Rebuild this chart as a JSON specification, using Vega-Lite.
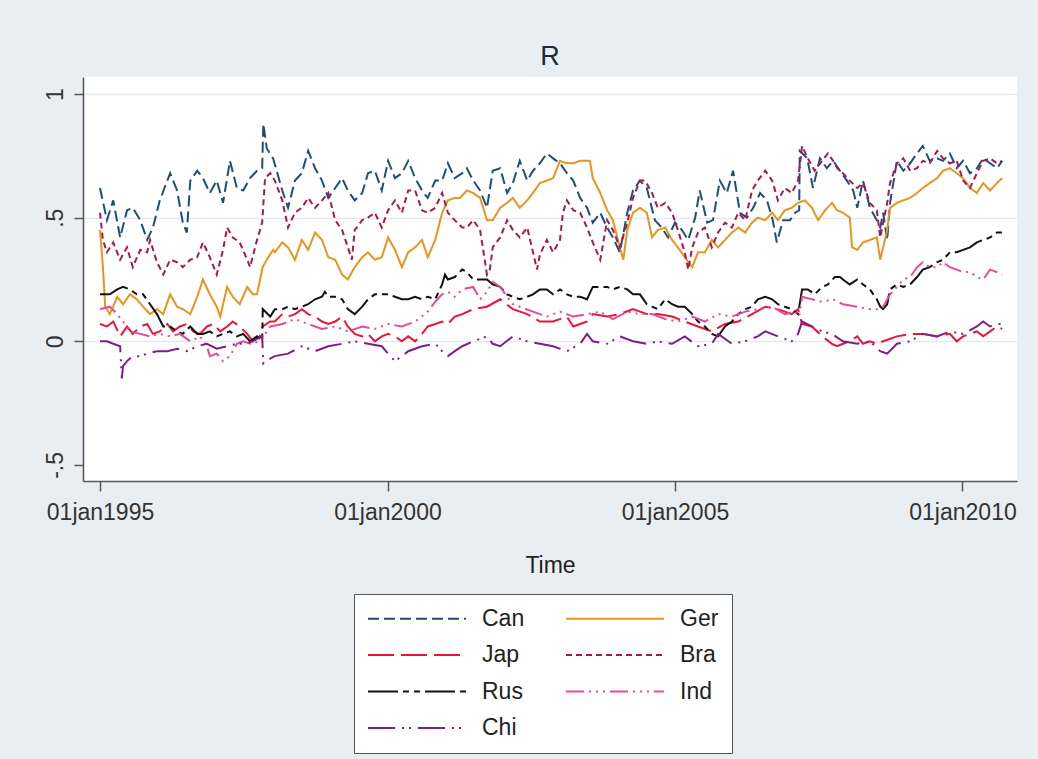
{
  "$schema": "https://vega.github.io/schema/vega-lite/v6.json",
  "autosize": "none",
  "width": 934,
  "height": 404,
  "padding": {"left": 83, "top": 77, "right": 21, "bottom": 278},
  "background": "#e9eef2",
  "title": {"text": "R", "fontSize": 27, "fontWeight": "normal", "color": "#1c2b3a", "offset": 6, "anchor": "middle", "font": "Liberation Sans"},
  "config": {
    "font": "Liberation Sans",
    "view": {"fill": "white", "stroke": null}
  },
  "data": {"values": [
    {"s":"Can","t":1995.00,"v":0.62},{"s":"Can","t":1995.12,"v":0.49},{"s":"Can","t":1995.23,"v":0.57},{"s":"Can","t":1995.35,"v":0.42},{"s":"Can","t":1995.47,"v":0.53},{"s":"Can","t":1995.57,"v":0.54},{"s":"Can","t":1995.70,"v":0.49},{"s":"Can","t":1995.82,"v":0.41},{"s":"Can","t":1995.92,"v":0.46},{"s":"Can","t":1996.04,"v":0.57},{"s":"Can","t":1996.17,"v":0.65},{"s":"Can","t":1996.22,"v":0.68},{"s":"Can","t":1996.34,"v":0.61},{"s":"Can","t":1996.44,"v":0.48},{"s":"Can","t":1996.51,"v":0.44},{"s":"Can","t":1996.57,"v":0.65},{"s":"Can","t":1996.69,"v":0.69},{"s":"Can","t":1996.79,"v":0.66},{"s":"Can","t":1996.91,"v":0.60},{"s":"Can","t":1997.03,"v":0.65},{"s":"Can","t":1997.14,"v":0.56},{"s":"Can","t":1997.26,"v":0.73},{"s":"Can","t":1997.38,"v":0.62},{"s":"Can","t":1997.49,"v":0.61},{"s":"Can","t":1997.61,"v":0.66},{"s":"Can","t":1997.73,"v":0.69},{"s":"Can","t":1997.82,"v":0.70},{"s":"Can","t":1997.84,"v":0.88},{"s":"Can","t":1997.90,"v":0.78},{"s":"Can","t":1998.01,"v":0.74},{"s":"Can","t":1998.17,"v":0.61},{"s":"Can","t":1998.27,"v":0.54},{"s":"Can","t":1998.39,"v":0.65},{"s":"Can","t":1998.51,"v":0.68},{"s":"Can","t":1998.62,"v":0.77},{"s":"Can","t":1998.74,"v":0.70},{"s":"Can","t":1998.86,"v":0.65},{"s":"Can","t":1998.97,"v":0.58},{"s":"Can","t":1999.09,"v":0.62},{"s":"Can","t":1999.21,"v":0.66},{"s":"Can","t":1999.31,"v":0.61},{"s":"Can","t":1999.43,"v":0.57},{"s":"Can","t":1999.56,"v":0.60},{"s":"Can","t":1999.66,"v":0.68},{"s":"Can","t":1999.78,"v":0.69},{"s":"Can","t":1999.90,"v":0.61},{"s":"Can","t":2000.01,"v":0.73},{"s":"Can","t":2000.13,"v":0.66},{"s":"Can","t":2000.25,"v":0.68},{"s":"Can","t":2000.36,"v":0.73},{"s":"Can","t":2000.48,"v":0.66},{"s":"Can","t":2000.60,"v":0.61},{"s":"Can","t":2000.70,"v":0.58},{"s":"Can","t":2000.83,"v":0.65},{"s":"Can","t":2000.95,"v":0.65},{"s":"Can","t":2001.05,"v":0.72},{"s":"Can","t":2001.17,"v":0.66},{"s":"Can","t":2001.30,"v":0.68},{"s":"Can","t":2001.38,"v":0.70},{"s":"Can","t":2001.49,"v":0.65},{"s":"Can","t":2001.61,"v":0.61},{"s":"Can","t":2001.73,"v":0.54},{"s":"Can","t":2001.83,"v":0.69},{"s":"Can","t":2001.96,"v":0.70},{"s":"Can","t":2002.08,"v":0.60},{"s":"Can","t":2002.18,"v":0.64},{"s":"Can","t":2002.30,"v":0.73},{"s":"Can","t":2002.43,"v":0.65},{"s":"Can","t":2002.53,"v":0.69},{"s":"Can","t":2002.65,"v":0.72},{"s":"Can","t":2002.77,"v":0.76},{"s":"Can","t":2002.88,"v":0.74},{"s":"Can","t":2003.00,"v":0.72},{"s":"Can","t":2003.12,"v":0.68},{"s":"Can","t":2003.23,"v":0.65},{"s":"Can","t":2003.35,"v":0.58},{"s":"Can","t":2003.47,"v":0.54},{"s":"Can","t":2003.57,"v":0.48},{"s":"Can","t":2003.70,"v":0.52},{"s":"Can","t":2003.82,"v":0.46},{"s":"Can","t":2003.92,"v":0.42},{"s":"Can","t":2004.04,"v":0.36},{"s":"Can","t":2004.17,"v":0.52},{"s":"Can","t":2004.27,"v":0.61},{"s":"Can","t":2004.39,"v":0.65},{"s":"Can","t":2004.51,"v":0.62},{"s":"Can","t":2004.65,"v":0.49},{"s":"Can","t":2004.77,"v":0.46},{"s":"Can","t":2004.88,"v":0.42},{"s":"Can","t":2005.00,"v":0.48},{"s":"Can","t":2005.12,"v":0.45},{"s":"Can","t":2005.23,"v":0.41},{"s":"Can","t":2005.35,"v":0.50},{"s":"Can","t":2005.43,"v":0.61},{"s":"Can","t":2005.56,"v":0.48},{"s":"Can","t":2005.66,"v":0.49},{"s":"Can","t":2005.78,"v":0.65},{"s":"Can","t":2005.90,"v":0.60},{"s":"Can","t":2006.01,"v":0.69},{"s":"Can","t":2006.13,"v":0.52},{"s":"Can","t":2006.25,"v":0.50},{"s":"Can","t":2006.36,"v":0.54},{"s":"Can","t":2006.48,"v":0.60},{"s":"Can","t":2006.60,"v":0.57},{"s":"Can","t":2006.70,"v":0.49},{"s":"Can","t":2006.77,"v":0.40},{"s":"Can","t":2006.88,"v":0.49},{"s":"Can","t":2007.00,"v":0.49},{"s":"Can","t":2007.09,"v":0.52},{"s":"Can","t":2007.16,"v":0.53},{"s":"Can","t":2007.17,"v":0.77},{"s":"Can","t":2007.30,"v":0.74},{"s":"Can","t":2007.40,"v":0.62},{"s":"Can","t":2007.52,"v":0.74},{"s":"Can","t":2007.64,"v":0.70},{"s":"Can","t":2007.75,"v":0.73},{"s":"Can","t":2007.87,"v":0.69},{"s":"Can","t":2007.99,"v":0.65},{"s":"Can","t":2008.10,"v":0.61},{"s":"Can","t":2008.17,"v":0.54},{"s":"Can","t":2008.27,"v":0.65},{"s":"Can","t":2008.39,"v":0.54},{"s":"Can","t":2008.51,"v":0.49},{"s":"Can","t":2008.57,"v":0.46},{"s":"Can","t":2008.62,"v":0.52},{"s":"Can","t":2008.69,"v":0.41},{"s":"Can","t":2008.74,"v":0.56},{"s":"Can","t":2008.86,"v":0.73},{"s":"Can","t":2008.97,"v":0.69},{"s":"Can","t":2009.09,"v":0.72},{"s":"Can","t":2009.21,"v":0.76},{"s":"Can","t":2009.31,"v":0.79},{"s":"Can","t":2009.43,"v":0.73},{"s":"Can","t":2009.56,"v":0.74},{"s":"Can","t":2009.66,"v":0.73},{"s":"Can","t":2009.78,"v":0.76},{"s":"Can","t":2009.90,"v":0.70},{"s":"Can","t":2010.01,"v":0.73},{"s":"Can","t":2010.13,"v":0.68},{"s":"Can","t":2010.25,"v":0.70},{"s":"Can","t":2010.36,"v":0.74},{"s":"Can","t":2010.48,"v":0.72},{"s":"Can","t":2010.60,"v":0.70},{"s":"Can","t":2010.69,"v":0.73},

    {"s":"Ger","t":1995.00,"v":0.45},{"s":"Ger","t":1995.05,"v":0.30},{"s":"Ger","t":1995.09,"v":0.14},{"s":"Ger","t":1995.17,"v":0.11},{"s":"Ger","t":1995.30,"v":0.18},{"s":"Ger","t":1995.40,"v":0.15},{"s":"Ger","t":1995.52,"v":0.19},{"s":"Ger","t":1995.64,"v":0.17},{"s":"Ger","t":1995.75,"v":0.14},{"s":"Ger","t":1995.87,"v":0.11},{"s":"Ger","t":1995.99,"v":0.13},{"s":"Ger","t":1996.10,"v":0.11},{"s":"Ger","t":1996.22,"v":0.19},{"s":"Ger","t":1996.34,"v":0.14},{"s":"Ger","t":1996.44,"v":0.13},{"s":"Ger","t":1996.57,"v":0.11},{"s":"Ger","t":1996.69,"v":0.18},{"s":"Ger","t":1996.79,"v":0.25},{"s":"Ger","t":1996.91,"v":0.19},{"s":"Ger","t":1997.03,"v":0.14},{"s":"Ger","t":1997.09,"v":0.10},{"s":"Ger","t":1997.21,"v":0.22},{"s":"Ger","t":1997.31,"v":0.18},{"s":"Ger","t":1997.43,"v":0.15},{"s":"Ger","t":1997.56,"v":0.22},{"s":"Ger","t":1997.66,"v":0.19},{"s":"Ger","t":1997.73,"v":0.19},{"s":"Ger","t":1997.83,"v":0.30},{"s":"Ger","t":1997.90,"v":0.33},{"s":"Ger","t":1998.01,"v":0.37},{"s":"Ger","t":1998.04,"v":0.36},{"s":"Ger","t":1998.17,"v":0.40},{"s":"Ger","t":1998.27,"v":0.38},{"s":"Ger","t":1998.39,"v":0.33},{"s":"Ger","t":1998.51,"v":0.41},{"s":"Ger","t":1998.62,"v":0.37},{"s":"Ger","t":1998.74,"v":0.44},{"s":"Ger","t":1998.86,"v":0.41},{"s":"Ger","t":1998.97,"v":0.34},{"s":"Ger","t":1999.09,"v":0.33},{"s":"Ger","t":1999.21,"v":0.27},{"s":"Ger","t":1999.31,"v":0.25},{"s":"Ger","t":1999.43,"v":0.30},{"s":"Ger","t":1999.56,"v":0.34},{"s":"Ger","t":1999.66,"v":0.36},{"s":"Ger","t":1999.78,"v":0.33},{"s":"Ger","t":1999.90,"v":0.34},{"s":"Ger","t":2000.01,"v":0.42},{"s":"Ger","t":2000.13,"v":0.37},{"s":"Ger","t":2000.25,"v":0.30},{"s":"Ger","t":2000.36,"v":0.36},{"s":"Ger","t":2000.48,"v":0.38},{"s":"Ger","t":2000.60,"v":0.41},{"s":"Ger","t":2000.70,"v":0.34},{"s":"Ger","t":2000.83,"v":0.41},{"s":"Ger","t":2000.95,"v":0.52},{"s":"Ger","t":2001.05,"v":0.57},{"s":"Ger","t":2001.17,"v":0.58},{"s":"Ger","t":2001.26,"v":0.58},{"s":"Ger","t":2001.38,"v":0.61},{"s":"Ger","t":2001.49,"v":0.60},{"s":"Ger","t":2001.61,"v":0.58},{"s":"Ger","t":2001.73,"v":0.49},{"s":"Ger","t":2001.83,"v":0.49},{"s":"Ger","t":2001.96,"v":0.54},{"s":"Ger","t":2002.08,"v":0.56},{"s":"Ger","t":2002.18,"v":0.58},{"s":"Ger","t":2002.30,"v":0.54},{"s":"Ger","t":2002.43,"v":0.57},{"s":"Ger","t":2002.53,"v":0.60},{"s":"Ger","t":2002.65,"v":0.64},{"s":"Ger","t":2002.77,"v":0.65},{"s":"Ger","t":2002.88,"v":0.66},{"s":"Ger","t":2003.00,"v":0.73},{"s":"Ger","t":2003.12,"v":0.72},{"s":"Ger","t":2003.23,"v":0.72},{"s":"Ger","t":2003.35,"v":0.73},{"s":"Ger","t":2003.52,"v":0.73},{"s":"Ger","t":2003.57,"v":0.66},{"s":"Ger","t":2003.70,"v":0.60},{"s":"Ger","t":2003.82,"v":0.53},{"s":"Ger","t":2003.92,"v":0.49},{"s":"Ger","t":2004.04,"v":0.38},{"s":"Ger","t":2004.10,"v":0.33},{"s":"Ger","t":2004.17,"v":0.45},{"s":"Ger","t":2004.27,"v":0.52},{"s":"Ger","t":2004.39,"v":0.54},{"s":"Ger","t":2004.51,"v":0.52},{"s":"Ger","t":2004.60,"v":0.42},{"s":"Ger","t":2004.70,"v":0.45},{"s":"Ger","t":2004.83,"v":0.46},{"s":"Ger","t":2004.95,"v":0.41},{"s":"Ger","t":2005.05,"v":0.38},{"s":"Ger","t":2005.17,"v":0.34},{"s":"Ger","t":2005.30,"v":0.30},{"s":"Ger","t":2005.40,"v":0.36},{"s":"Ger","t":2005.52,"v":0.36},{"s":"Ger","t":2005.64,"v":0.41},{"s":"Ger","t":2005.75,"v":0.38},{"s":"Ger","t":2005.87,"v":0.41},{"s":"Ger","t":2005.99,"v":0.44},{"s":"Ger","t":2006.10,"v":0.46},{"s":"Ger","t":2006.22,"v":0.44},{"s":"Ger","t":2006.34,"v":0.48},{"s":"Ger","t":2006.44,"v":0.50},{"s":"Ger","t":2006.57,"v":0.49},{"s":"Ger","t":2006.69,"v":0.52},{"s":"Ger","t":2006.79,"v":0.49},{"s":"Ger","t":2006.91,"v":0.53},{"s":"Ger","t":2007.03,"v":0.54},{"s":"Ger","t":2007.14,"v":0.56},{"s":"Ger","t":2007.26,"v":0.57},{"s":"Ger","t":2007.38,"v":0.54},{"s":"Ger","t":2007.49,"v":0.49},{"s":"Ger","t":2007.61,"v":0.53},{"s":"Ger","t":2007.73,"v":0.56},{"s":"Ger","t":2007.82,"v":0.53},{"s":"Ger","t":2007.92,"v":0.52},{"s":"Ger","t":2008.04,"v":0.50},{"s":"Ger","t":2008.08,"v":0.38},{"s":"Ger","t":2008.17,"v":0.37},{"s":"Ger","t":2008.27,"v":0.40},{"s":"Ger","t":2008.39,"v":0.41},{"s":"Ger","t":2008.51,"v":0.42},{"s":"Ger","t":2008.57,"v":0.33},{"s":"Ger","t":2008.62,"v":0.38},{"s":"Ger","t":2008.69,"v":0.45},{"s":"Ger","t":2008.74,"v":0.54},{"s":"Ger","t":2008.86,"v":0.56},{"s":"Ger","t":2008.97,"v":0.57},{"s":"Ger","t":2009.09,"v":0.58},{"s":"Ger","t":2009.21,"v":0.60},{"s":"Ger","t":2009.31,"v":0.62},{"s":"Ger","t":2009.43,"v":0.64},{"s":"Ger","t":2009.56,"v":0.66},{"s":"Ger","t":2009.66,"v":0.69},{"s":"Ger","t":2009.78,"v":0.70},{"s":"Ger","t":2009.90,"v":0.68},{"s":"Ger","t":2010.01,"v":0.66},{"s":"Ger","t":2010.13,"v":0.62},{"s":"Ger","t":2010.25,"v":0.60},{"s":"Ger","t":2010.36,"v":0.64},{"s":"Ger","t":2010.48,"v":0.61},{"s":"Ger","t":2010.60,"v":0.64},{"s":"Ger","t":2010.69,"v":0.66},

    {"s":"Jap","t":1995.00,"v":0.07},{"s":"Jap","t":1995.12,"v":0.06},{"s":"Jap","t":1995.23,"v":0.08},{"s":"Jap","t":1995.35,"v":0.02},{"s":"Jap","t":1995.47,"v":0.06},{"s":"Jap","t":1995.57,"v":0.03},{"s":"Jap","t":1995.70,"v":0.06},{"s":"Jap","t":1995.82,"v":0.07},{"s":"Jap","t":1995.92,"v":0.03},{"s":"Jap","t":1996.04,"v":0.04},{"s":"Jap","t":1996.17,"v":0.07},{"s":"Jap","t":1996.27,"v":0.04},{"s":"Jap","t":1996.39,"v":0.06},{"s":"Jap","t":1996.51,"v":0.07},{"s":"Jap","t":1996.62,"v":0.04},{"s":"Jap","t":1996.74,"v":0.03},{"s":"Jap","t":1996.86,"v":0.06},{"s":"Jap","t":1996.97,"v":0.07},{"s":"Jap","t":1997.09,"v":0.04},{"s":"Jap","t":1997.21,"v":0.06},{"s":"Jap","t":1997.31,"v":0.08},{"s":"Jap","t":1997.43,"v":0.06},{"s":"Jap","t":1997.56,"v":0.03},{"s":"Jap","t":1997.66,"v":0.00},{"s":"Jap","t":1997.78,"v":0.02},{"s":"Jap","t":1997.83,"v":0.06},{"s":"Jap","t":1997.96,"v":0.08},{"s":"Jap","t":1998.04,"v":0.08},{"s":"Jap","t":1998.17,"v":0.11},{"s":"Jap","t":1998.27,"v":0.10},{"s":"Jap","t":1998.39,"v":0.11},{"s":"Jap","t":1998.51,"v":0.13},{"s":"Jap","t":1998.62,"v":0.11},{"s":"Jap","t":1998.74,"v":0.10},{"s":"Jap","t":1998.86,"v":0.08},{"s":"Jap","t":1998.97,"v":0.07},{"s":"Jap","t":1999.09,"v":0.08},{"s":"Jap","t":1999.21,"v":0.10},{"s":"Jap","t":1999.31,"v":0.06},{"s":"Jap","t":1999.43,"v":0.03},{"s":"Jap","t":1999.56,"v":0.02},{"s":"Jap","t":1999.66,"v":0.03},{"s":"Jap","t":1999.78,"v":0.00},{"s":"Jap","t":1999.90,"v":0.02},{"s":"Jap","t":2000.01,"v":0.03},{"s":"Jap","t":2000.13,"v":0.02},{"s":"Jap","t":2000.25,"v":0.00},{"s":"Jap","t":2000.36,"v":0.02},{"s":"Jap","t":2000.48,"v":0.00},{"s":"Jap","t":2000.60,"v":0.03},{"s":"Jap","t":2000.70,"v":0.06},{"s":"Jap","t":2000.83,"v":0.07},{"s":"Jap","t":2000.95,"v":0.08},{"s":"Jap","t":2001.05,"v":0.07},{"s":"Jap","t":2001.17,"v":0.10},{"s":"Jap","t":2001.30,"v":0.11},{"s":"Jap","t":2001.49,"v":0.13},{"s":"Jap","t":2001.73,"v":0.14},{"s":"Jap","t":2001.96,"v":0.17},{"s":"Jap","t":2002.18,"v":0.13},{"s":"Jap","t":2002.43,"v":0.11},{"s":"Jap","t":2002.65,"v":0.08},{"s":"Jap","t":2002.88,"v":0.08},{"s":"Jap","t":2003.12,"v":0.10},{"s":"Jap","t":2003.23,"v":0.06},{"s":"Jap","t":2003.35,"v":0.07},{"s":"Jap","t":2003.47,"v":0.08},{"s":"Jap","t":2003.57,"v":0.11},{"s":"Jap","t":2003.82,"v":0.10},{"s":"Jap","t":2004.04,"v":0.11},{"s":"Jap","t":2004.27,"v":0.13},{"s":"Jap","t":2004.51,"v":0.11},{"s":"Jap","t":2004.70,"v":0.11},{"s":"Jap","t":2004.95,"v":0.10},{"s":"Jap","t":2005.17,"v":0.08},{"s":"Jap","t":2005.40,"v":0.06},{"s":"Jap","t":2005.64,"v":0.04},{"s":"Jap","t":2005.87,"v":0.07},{"s":"Jap","t":2006.10,"v":0.08},{"s":"Jap","t":2006.34,"v":0.11},{"s":"Jap","t":2006.57,"v":0.14},{"s":"Jap","t":2006.79,"v":0.13},{"s":"Jap","t":2007.03,"v":0.11},{"s":"Jap","t":2007.14,"v":0.13},{"s":"Jap","t":2007.21,"v":0.07},{"s":"Jap","t":2007.38,"v":0.06},{"s":"Jap","t":2007.56,"v":0.02},{"s":"Jap","t":2007.73,"v":-0.01},{"s":"Jap","t":2007.82,"v":-0.02},{"s":"Jap","t":2007.92,"v":-0.01},{"s":"Jap","t":2008.04,"v":0.00},{"s":"Jap","t":2008.17,"v":0.02},{"s":"Jap","t":2008.27,"v":-0.01},{"s":"Jap","t":2008.39,"v":0.00},{"s":"Jap","t":2008.51,"v":-0.01},{"s":"Jap","t":2008.62,"v":0.00},{"s":"Jap","t":2008.86,"v":0.02},{"s":"Jap","t":2009.09,"v":0.03},{"s":"Jap","t":2009.31,"v":0.03},{"s":"Jap","t":2009.56,"v":0.02},{"s":"Jap","t":2009.78,"v":0.03},{"s":"Jap","t":2009.90,"v":0.00},{"s":"Jap","t":2010.01,"v":0.02},{"s":"Jap","t":2010.25,"v":0.04},{"s":"Jap","t":2010.36,"v":0.02},{"s":"Jap","t":2010.48,"v":0.04},{"s":"Jap","t":2010.60,"v":0.06},{"s":"Jap","t":2010.69,"v":0.05},

    {"s":"Bra","t":1995.00,"v":0.52},{"s":"Bra","t":1995.05,"v":0.41},{"s":"Bra","t":1995.12,"v":0.36},{"s":"Bra","t":1995.23,"v":0.40},{"s":"Bra","t":1995.35,"v":0.33},{"s":"Bra","t":1995.47,"v":0.38},{"s":"Bra","t":1995.57,"v":0.30},{"s":"Bra","t":1995.70,"v":0.37},{"s":"Bra","t":1995.82,"v":0.36},{"s":"Bra","t":1995.87,"v":0.41},{"s":"Bra","t":1995.99,"v":0.32},{"s":"Bra","t":1996.10,"v":0.27},{"s":"Bra","t":1996.22,"v":0.33},{"s":"Bra","t":1996.34,"v":0.32},{"s":"Bra","t":1996.44,"v":0.30},{"s":"Bra","t":1996.57,"v":0.33},{"s":"Bra","t":1996.69,"v":0.34},{"s":"Bra","t":1996.79,"v":0.40},{"s":"Bra","t":1996.91,"v":0.34},{"s":"Bra","t":1997.03,"v":0.27},{"s":"Bra","t":1997.14,"v":0.37},{"s":"Bra","t":1997.21,"v":0.46},{"s":"Bra","t":1997.31,"v":0.42},{"s":"Bra","t":1997.43,"v":0.40},{"s":"Bra","t":1997.56,"v":0.33},{"s":"Bra","t":1997.61,"v":0.30},{"s":"Bra","t":1997.73,"v":0.41},{"s":"Bra","t":1997.82,"v":0.48},{"s":"Bra","t":1997.87,"v":0.66},{"s":"Bra","t":1997.96,"v":0.68},{"s":"Bra","t":1998.04,"v":0.65},{"s":"Bra","t":1998.17,"v":0.57},{"s":"Bra","t":1998.27,"v":0.46},{"s":"Bra","t":1998.39,"v":0.52},{"s":"Bra","t":1998.51,"v":0.54},{"s":"Bra","t":1998.62,"v":0.58},{"s":"Bra","t":1998.74,"v":0.54},{"s":"Bra","t":1998.86,"v":0.57},{"s":"Bra","t":1998.97,"v":0.60},{"s":"Bra","t":1999.09,"v":0.49},{"s":"Bra","t":1999.21,"v":0.45},{"s":"Bra","t":1999.31,"v":0.38},{"s":"Bra","t":1999.38,"v":0.33},{"s":"Bra","t":1999.43,"v":0.45},{"s":"Bra","t":1999.56,"v":0.49},{"s":"Bra","t":1999.66,"v":0.50},{"s":"Bra","t":1999.78,"v":0.52},{"s":"Bra","t":1999.90,"v":0.46},{"s":"Bra","t":2000.01,"v":0.53},{"s":"Bra","t":2000.13,"v":0.57},{"s":"Bra","t":2000.25,"v":0.52},{"s":"Bra","t":2000.36,"v":0.61},{"s":"Bra","t":2000.48,"v":0.61},{"s":"Bra","t":2000.60,"v":0.53},{"s":"Bra","t":2000.70,"v":0.52},{"s":"Bra","t":2000.83,"v":0.54},{"s":"Bra","t":2000.95,"v":0.60},{"s":"Bra","t":2001.05,"v":0.52},{"s":"Bra","t":2001.17,"v":0.49},{"s":"Bra","t":2001.30,"v":0.46},{"s":"Bra","t":2001.38,"v":0.46},{"s":"Bra","t":2001.49,"v":0.49},{"s":"Bra","t":2001.61,"v":0.45},{"s":"Bra","t":2001.73,"v":0.27},{"s":"Bra","t":2001.78,"v":0.29},{"s":"Bra","t":2001.83,"v":0.38},{"s":"Bra","t":2001.96,"v":0.42},{"s":"Bra","t":2002.08,"v":0.49},{"s":"Bra","t":2002.18,"v":0.45},{"s":"Bra","t":2002.30,"v":0.42},{"s":"Bra","t":2002.43,"v":0.46},{"s":"Bra","t":2002.53,"v":0.36},{"s":"Bra","t":2002.60,"v":0.29},{"s":"Bra","t":2002.65,"v":0.35},{"s":"Bra","t":2002.77,"v":0.41},{"s":"Bra","t":2002.88,"v":0.36},{"s":"Bra","t":2003.00,"v":0.41},{"s":"Bra","t":2003.05,"v":0.52},{"s":"Bra","t":2003.12,"v":0.57},{"s":"Bra","t":2003.23,"v":0.53},{"s":"Bra","t":2003.35,"v":0.52},{"s":"Bra","t":2003.47,"v":0.46},{"s":"Bra","t":2003.57,"v":0.40},{"s":"Bra","t":2003.70,"v":0.33},{"s":"Bra","t":2003.82,"v":0.49},{"s":"Bra","t":2003.92,"v":0.45},{"s":"Bra","t":2004.04,"v":0.38},{"s":"Bra","t":2004.17,"v":0.48},{"s":"Bra","t":2004.27,"v":0.58},{"s":"Bra","t":2004.39,"v":0.65},{"s":"Bra","t":2004.48,"v":0.65},{"s":"Bra","t":2004.60,"v":0.60},{"s":"Bra","t":2004.70,"v":0.54},{"s":"Bra","t":2004.83,"v":0.56},{"s":"Bra","t":2004.95,"v":0.52},{"s":"Bra","t":2005.05,"v":0.45},{"s":"Bra","t":2005.17,"v":0.36},{"s":"Bra","t":2005.23,"v":0.29},{"s":"Bra","t":2005.30,"v":0.38},{"s":"Bra","t":2005.40,"v":0.44},{"s":"Bra","t":2005.52,"v":0.46},{"s":"Bra","t":2005.64,"v":0.38},{"s":"Bra","t":2005.75,"v":0.44},{"s":"Bra","t":2005.87,"v":0.48},{"s":"Bra","t":2005.99,"v":0.46},{"s":"Bra","t":2006.10,"v":0.52},{"s":"Bra","t":2006.22,"v":0.49},{"s":"Bra","t":2006.34,"v":0.61},{"s":"Bra","t":2006.44,"v":0.65},{"s":"Bra","t":2006.57,"v":0.69},{"s":"Bra","t":2006.69,"v":0.65},{"s":"Bra","t":2006.79,"v":0.57},{"s":"Bra","t":2006.91,"v":0.62},{"s":"Bra","t":2007.03,"v":0.60},{"s":"Bra","t":2007.14,"v":0.65},{"s":"Bra","t":2007.21,"v":0.79},{"s":"Bra","t":2007.31,"v":0.74},{"s":"Bra","t":2007.43,"v":0.69},{"s":"Bra","t":2007.56,"v":0.73},{"s":"Bra","t":2007.66,"v":0.76},{"s":"Bra","t":2007.78,"v":0.72},{"s":"Bra","t":2007.82,"v":0.70},{"s":"Bra","t":2007.92,"v":0.68},{"s":"Bra","t":2008.04,"v":0.65},{"s":"Bra","t":2008.17,"v":0.62},{"s":"Bra","t":2008.27,"v":0.64},{"s":"Bra","t":2008.39,"v":0.56},{"s":"Bra","t":2008.51,"v":0.53},{"s":"Bra","t":2008.57,"v":0.42},{"s":"Bra","t":2008.62,"v":0.48},{"s":"Bra","t":2008.69,"v":0.56},{"s":"Bra","t":2008.74,"v":0.64},{"s":"Bra","t":2008.86,"v":0.72},{"s":"Bra","t":2008.97,"v":0.74},{"s":"Bra","t":2009.09,"v":0.69},{"s":"Bra","t":2009.21,"v":0.70},{"s":"Bra","t":2009.31,"v":0.73},{"s":"Bra","t":2009.43,"v":0.72},{"s":"Bra","t":2009.56,"v":0.77},{"s":"Bra","t":2009.66,"v":0.74},{"s":"Bra","t":2009.78,"v":0.72},{"s":"Bra","t":2009.90,"v":0.73},{"s":"Bra","t":2010.01,"v":0.65},{"s":"Bra","t":2010.13,"v":0.62},{"s":"Bra","t":2010.25,"v":0.68},{"s":"Bra","t":2010.36,"v":0.73},{"s":"Bra","t":2010.48,"v":0.74},{"s":"Bra","t":2010.60,"v":0.72},{"s":"Bra","t":2010.69,"v":0.73},

    {"s":"Rus","t":1995.00,"v":0.19},{"s":"Rus","t":1995.17,"v":0.19},{"s":"Rus","t":1995.30,"v":0.21},{"s":"Rus","t":1995.40,"v":0.22},{"s":"Rus","t":1995.52,"v":0.21},{"s":"Rus","t":1995.64,"v":0.19},{"s":"Rus","t":1995.75,"v":0.19},{"s":"Rus","t":1995.87,"v":0.15},{"s":"Rus","t":1995.99,"v":0.11},{"s":"Rus","t":1996.10,"v":0.06},{"s":"Rus","t":1996.22,"v":0.06},{"s":"Rus","t":1996.34,"v":0.04},{"s":"Rus","t":1996.44,"v":0.03},{"s":"Rus","t":1996.57,"v":0.06},{"s":"Rus","t":1996.69,"v":0.03},{"s":"Rus","t":1996.79,"v":0.03},{"s":"Rus","t":1996.91,"v":0.04},{"s":"Rus","t":1997.03,"v":0.02},{"s":"Rus","t":1997.14,"v":0.03},{"s":"Rus","t":1997.26,"v":0.04},{"s":"Rus","t":1997.38,"v":0.02},{"s":"Rus","t":1997.49,"v":0.03},{"s":"Rus","t":1997.61,"v":0.00},{"s":"Rus","t":1997.73,"v":0.02},{"s":"Rus","t":1997.82,"v":0.00},{"s":"Rus","t":1997.83,"v":0.13},{"s":"Rus","t":1997.96,"v":0.10},{"s":"Rus","t":1998.04,"v":0.13},{"s":"Rus","t":1998.17,"v":0.13},{"s":"Rus","t":1998.27,"v":0.14},{"s":"Rus","t":1998.39,"v":0.13},{"s":"Rus","t":1998.51,"v":0.14},{"s":"Rus","t":1998.62,"v":0.15},{"s":"Rus","t":1998.74,"v":0.17},{"s":"Rus","t":1998.86,"v":0.18},{"s":"Rus","t":1998.91,"v":0.20},{"s":"Rus","t":1998.97,"v":0.18},{"s":"Rus","t":1999.09,"v":0.18},{"s":"Rus","t":1999.21,"v":0.17},{"s":"Rus","t":1999.31,"v":0.13},{"s":"Rus","t":1999.43,"v":0.11},{"s":"Rus","t":1999.56,"v":0.14},{"s":"Rus","t":1999.66,"v":0.17},{"s":"Rus","t":1999.78,"v":0.19},{"s":"Rus","t":1999.90,"v":0.19},{"s":"Rus","t":2000.01,"v":0.19},{"s":"Rus","t":2000.13,"v":0.18},{"s":"Rus","t":2000.25,"v":0.17},{"s":"Rus","t":2000.36,"v":0.17},{"s":"Rus","t":2000.48,"v":0.18},{"s":"Rus","t":2000.60,"v":0.17},{"s":"Rus","t":2000.70,"v":0.18},{"s":"Rus","t":2000.83,"v":0.17},{"s":"Rus","t":2000.95,"v":0.23},{"s":"Rus","t":2001.00,"v":0.27},{"s":"Rus","t":2001.05,"v":0.25},{"s":"Rus","t":2001.17,"v":0.26},{"s":"Rus","t":2001.30,"v":0.29},{"s":"Rus","t":2001.38,"v":0.28},{"s":"Rus","t":2001.49,"v":0.25},{"s":"Rus","t":2001.61,"v":0.25},{"s":"Rus","t":2001.73,"v":0.25},{"s":"Rus","t":2001.83,"v":0.23},{"s":"Rus","t":2001.96,"v":0.22},{"s":"Rus","t":2002.08,"v":0.19},{"s":"Rus","t":2002.18,"v":0.18},{"s":"Rus","t":2002.30,"v":0.17},{"s":"Rus","t":2002.43,"v":0.18},{"s":"Rus","t":2002.53,"v":0.19},{"s":"Rus","t":2002.65,"v":0.21},{"s":"Rus","t":2002.77,"v":0.21},{"s":"Rus","t":2002.88,"v":0.19},{"s":"Rus","t":2003.00,"v":0.21},{"s":"Rus","t":2003.12,"v":0.19},{"s":"Rus","t":2003.23,"v":0.18},{"s":"Rus","t":2003.35,"v":0.18},{"s":"Rus","t":2003.47,"v":0.17},{"s":"Rus","t":2003.57,"v":0.22},{"s":"Rus","t":2003.70,"v":0.22},{"s":"Rus","t":2003.82,"v":0.22},{"s":"Rus","t":2003.92,"v":0.21},{"s":"Rus","t":2004.04,"v":0.22},{"s":"Rus","t":2004.17,"v":0.21},{"s":"Rus","t":2004.27,"v":0.19},{"s":"Rus","t":2004.39,"v":0.19},{"s":"Rus","t":2004.51,"v":0.15},{"s":"Rus","t":2004.60,"v":0.14},{"s":"Rus","t":2004.70,"v":0.13},{"s":"Rus","t":2004.83,"v":0.17},{"s":"Rus","t":2004.95,"v":0.15},{"s":"Rus","t":2005.05,"v":0.14},{"s":"Rus","t":2005.17,"v":0.14},{"s":"Rus","t":2005.30,"v":0.11},{"s":"Rus","t":2005.40,"v":0.08},{"s":"Rus","t":2005.52,"v":0.06},{"s":"Rus","t":2005.64,"v":0.03},{"s":"Rus","t":2005.75,"v":0.02},{"s":"Rus","t":2005.87,"v":0.06},{"s":"Rus","t":2005.99,"v":0.08},{"s":"Rus","t":2006.10,"v":0.11},{"s":"Rus","t":2006.22,"v":0.13},{"s":"Rus","t":2006.34,"v":0.14},{"s":"Rus","t":2006.44,"v":0.17},{"s":"Rus","t":2006.57,"v":0.18},{"s":"Rus","t":2006.69,"v":0.17},{"s":"Rus","t":2006.79,"v":0.15},{"s":"Rus","t":2006.91,"v":0.14},{"s":"Rus","t":2007.03,"v":0.13},{"s":"Rus","t":2007.14,"v":0.11},{"s":"Rus","t":2007.21,"v":0.21},{"s":"Rus","t":2007.31,"v":0.21},{"s":"Rus","t":2007.43,"v":0.19},{"s":"Rus","t":2007.56,"v":0.22},{"s":"Rus","t":2007.66,"v":0.23},{"s":"Rus","t":2007.78,"v":0.26},{"s":"Rus","t":2007.87,"v":0.26},{"s":"Rus","t":2007.92,"v":0.25},{"s":"Rus","t":2008.04,"v":0.23},{"s":"Rus","t":2008.17,"v":0.25},{"s":"Rus","t":2008.27,"v":0.23},{"s":"Rus","t":2008.39,"v":0.21},{"s":"Rus","t":2008.51,"v":0.17},{"s":"Rus","t":2008.57,"v":0.14},{"s":"Rus","t":2008.62,"v":0.13},{"s":"Rus","t":2008.69,"v":0.15},{"s":"Rus","t":2008.74,"v":0.21},{"s":"Rus","t":2008.86,"v":0.23},{"s":"Rus","t":2008.97,"v":0.22},{"s":"Rus","t":2009.09,"v":0.23},{"s":"Rus","t":2009.21,"v":0.26},{"s":"Rus","t":2009.31,"v":0.29},{"s":"Rus","t":2009.43,"v":0.30},{"s":"Rus","t":2009.56,"v":0.32},{"s":"Rus","t":2009.66,"v":0.33},{"s":"Rus","t":2009.78,"v":0.36},{"s":"Rus","t":2009.90,"v":0.36},{"s":"Rus","t":2010.01,"v":0.37},{"s":"Rus","t":2010.13,"v":0.38},{"s":"Rus","t":2010.25,"v":0.40},{"s":"Rus","t":2010.36,"v":0.41},{"s":"Rus","t":2010.48,"v":0.42},{"s":"Rus","t":2010.60,"v":0.44},{"s":"Rus","t":2010.69,"v":0.44},

    {"s":"Ind","t":1995.00,"v":0.13},{"s":"Ind","t":1995.17,"v":0.14},{"s":"Ind","t":1995.30,"v":0.11},{"s":"Ind","t":1995.40,"v":0.08},{"s":"Ind","t":1995.52,"v":0.04},{"s":"Ind","t":1995.70,"v":0.03},{"s":"Ind","t":1995.87,"v":0.02},{"s":"Ind","t":1996.04,"v":0.03},{"s":"Ind","t":1996.22,"v":0.02},{"s":"Ind","t":1996.39,"v":0.03},{"s":"Ind","t":1996.57,"v":0.00},{"s":"Ind","t":1996.74,"v":0.02},{"s":"Ind","t":1996.86,"v":-0.02},{"s":"Ind","t":1996.91,"v":-0.06},{"s":"Ind","t":1997.03,"v":-0.05},{"s":"Ind","t":1997.14,"v":-0.08},{"s":"Ind","t":1997.26,"v":-0.06},{"s":"Ind","t":1997.38,"v":-0.01},{"s":"Ind","t":1997.49,"v":0.00},{"s":"Ind","t":1997.61,"v":-0.01},{"s":"Ind","t":1997.78,"v":0.00},{"s":"Ind","t":1997.87,"v":0.03},{"s":"Ind","t":1997.96,"v":0.06},{"s":"Ind","t":1998.17,"v":0.07},{"s":"Ind","t":1998.39,"v":0.09},{"s":"Ind","t":1998.62,"v":0.07},{"s":"Ind","t":1998.86,"v":0.05},{"s":"Ind","t":1999.09,"v":0.06},{"s":"Ind","t":1999.31,"v":0.04},{"s":"Ind","t":1999.56,"v":0.06},{"s":"Ind","t":1999.78,"v":0.05},{"s":"Ind","t":2000.01,"v":0.07},{"s":"Ind","t":2000.25,"v":0.06},{"s":"Ind","t":2000.48,"v":0.08},{"s":"Ind","t":2000.70,"v":0.12},{"s":"Ind","t":2000.83,"v":0.16},{"s":"Ind","t":2000.95,"v":0.19},{"s":"Ind","t":2001.05,"v":0.20},{"s":"Ind","t":2001.17,"v":0.18},{"s":"Ind","t":2001.30,"v":0.21},{"s":"Ind","t":2001.49,"v":0.22},{"s":"Ind","t":2001.61,"v":0.17},{"s":"Ind","t":2001.73,"v":0.20},{"s":"Ind","t":2001.83,"v":0.24},{"s":"Ind","t":2001.96,"v":0.22},{"s":"Ind","t":2002.08,"v":0.18},{"s":"Ind","t":2002.18,"v":0.15},{"s":"Ind","t":2002.30,"v":0.14},{"s":"Ind","t":2002.53,"v":0.12},{"s":"Ind","t":2002.77,"v":0.10},{"s":"Ind","t":2003.00,"v":0.12},{"s":"Ind","t":2003.23,"v":0.10},{"s":"Ind","t":2003.47,"v":0.11},{"s":"Ind","t":2003.70,"v":0.12},{"s":"Ind","t":2003.92,"v":0.09},{"s":"Ind","t":2004.17,"v":0.12},{"s":"Ind","t":2004.39,"v":0.11},{"s":"Ind","t":2004.60,"v":0.11},{"s":"Ind","t":2004.83,"v":0.09},{"s":"Ind","t":2005.05,"v":0.08},{"s":"Ind","t":2005.30,"v":0.10},{"s":"Ind","t":2005.52,"v":0.08},{"s":"Ind","t":2005.75,"v":0.11},{"s":"Ind","t":2005.99,"v":0.10},{"s":"Ind","t":2006.22,"v":0.12},{"s":"Ind","t":2006.44,"v":0.13},{"s":"Ind","t":2006.69,"v":0.14},{"s":"Ind","t":2006.91,"v":0.11},{"s":"Ind","t":2007.09,"v":0.12},{"s":"Ind","t":2007.16,"v":0.10},{"s":"Ind","t":2007.21,"v":0.18},{"s":"Ind","t":2007.38,"v":0.17},{"s":"Ind","t":2007.56,"v":0.16},{"s":"Ind","t":2007.75,"v":0.17},{"s":"Ind","t":2007.92,"v":0.15},{"s":"Ind","t":2008.17,"v":0.14},{"s":"Ind","t":2008.39,"v":0.13},{"s":"Ind","t":2008.51,"v":0.13},{"s":"Ind","t":2008.62,"v":0.14},{"s":"Ind","t":2008.74,"v":0.19},{"s":"Ind","t":2008.86,"v":0.22},{"s":"Ind","t":2008.97,"v":0.25},{"s":"Ind","t":2009.09,"v":0.26},{"s":"Ind","t":2009.21,"v":0.30},{"s":"Ind","t":2009.31,"v":0.32},{"s":"Ind","t":2009.43,"v":0.30},{"s":"Ind","t":2009.56,"v":0.30},{"s":"Ind","t":2009.66,"v":0.32},{"s":"Ind","t":2009.78,"v":0.30},{"s":"Ind","t":2009.90,"v":0.29},{"s":"Ind","t":2010.01,"v":0.28},{"s":"Ind","t":2010.13,"v":0.28},{"s":"Ind","t":2010.25,"v":0.26},{"s":"Ind","t":2010.36,"v":0.25},{"s":"Ind","t":2010.48,"v":0.29},{"s":"Ind","t":2010.60,"v":0.28},{"s":"Ind","t":2010.69,"v":0.27},

    {"s":"Chi","t":1995.00,"v":0.00},{"s":"Chi","t":1995.12,"v":0.00},{"s":"Chi","t":1995.23,"v":-0.01},{"s":"Chi","t":1995.35,"v":-0.02},{"s":"Chi","t":1995.38,"v":-0.15},{"s":"Chi","t":1995.40,"v":-0.10},{"s":"Chi","t":1995.47,"v":-0.08},{"s":"Chi","t":1995.57,"v":-0.06},{"s":"Chi","t":1995.70,"v":-0.06},{"s":"Chi","t":1995.82,"v":-0.05},{"s":"Chi","t":1995.99,"v":-0.04},{"s":"Chi","t":1996.17,"v":-0.04},{"s":"Chi","t":1996.34,"v":-0.03},{"s":"Chi","t":1996.51,"v":-0.04},{"s":"Chi","t":1996.69,"v":-0.02},{"s":"Chi","t":1996.86,"v":-0.01},{"s":"Chi","t":1997.03,"v":-0.03},{"s":"Chi","t":1997.21,"v":-0.02},{"s":"Chi","t":1997.38,"v":-0.01},{"s":"Chi","t":1997.56,"v":-0.01},{"s":"Chi","t":1997.73,"v":0.01},{"s":"Chi","t":1997.82,"v":0.02},{"s":"Chi","t":1997.84,"v":-0.09},{"s":"Chi","t":1997.96,"v":-0.07},{"s":"Chi","t":1998.04,"v":-0.06},{"s":"Chi","t":1998.27,"v":-0.05},{"s":"Chi","t":1998.51,"v":-0.02},{"s":"Chi","t":1998.74,"v":-0.04},{"s":"Chi","t":1998.97,"v":-0.02},{"s":"Chi","t":1999.21,"v":-0.01},{"s":"Chi","t":1999.43,"v":0.00},{"s":"Chi","t":1999.66,"v":-0.01},{"s":"Chi","t":1999.90,"v":-0.02},{"s":"Chi","t":2000.01,"v":-0.05},{"s":"Chi","t":2000.13,"v":-0.08},{"s":"Chi","t":2000.25,"v":-0.06},{"s":"Chi","t":2000.36,"v":-0.04},{"s":"Chi","t":2000.60,"v":-0.02},{"s":"Chi","t":2000.83,"v":-0.01},{"s":"Chi","t":2000.95,"v":-0.04},{"s":"Chi","t":2001.05,"v":-0.06},{"s":"Chi","t":2001.17,"v":-0.04},{"s":"Chi","t":2001.30,"v":-0.02},{"s":"Chi","t":2001.49,"v":0.00},{"s":"Chi","t":2001.73,"v":0.02},{"s":"Chi","t":2001.83,"v":-0.01},{"s":"Chi","t":2001.96,"v":-0.02},{"s":"Chi","t":2002.18,"v":0.02},{"s":"Chi","t":2002.43,"v":0.00},{"s":"Chi","t":2002.65,"v":-0.01},{"s":"Chi","t":2002.88,"v":-0.02},{"s":"Chi","t":2003.12,"v":-0.04},{"s":"Chi","t":2003.35,"v":-0.01},{"s":"Chi","t":2003.47,"v":0.03},{"s":"Chi","t":2003.57,"v":0.00},{"s":"Chi","t":2003.82,"v":-0.01},{"s":"Chi","t":2004.04,"v":0.02},{"s":"Chi","t":2004.27,"v":0.00},{"s":"Chi","t":2004.51,"v":-0.01},{"s":"Chi","t":2004.70,"v":0.00},{"s":"Chi","t":2004.95,"v":-0.01},{"s":"Chi","t":2005.17,"v":0.02},{"s":"Chi","t":2005.40,"v":-0.02},{"s":"Chi","t":2005.64,"v":-0.01},{"s":"Chi","t":2005.75,"v":0.03},{"s":"Chi","t":2005.99,"v":-0.01},{"s":"Chi","t":2006.22,"v":0.00},{"s":"Chi","t":2006.44,"v":0.02},{"s":"Chi","t":2006.57,"v":0.04},{"s":"Chi","t":2006.79,"v":0.02},{"s":"Chi","t":2007.03,"v":0.00},{"s":"Chi","t":2007.14,"v":0.03},{"s":"Chi","t":2007.21,"v":0.08},{"s":"Chi","t":2007.38,"v":0.06},{"s":"Chi","t":2007.56,"v":0.04},{"s":"Chi","t":2007.73,"v":0.03},{"s":"Chi","t":2007.92,"v":0.00},{"s":"Chi","t":2008.17,"v":-0.01},{"s":"Chi","t":2008.39,"v":0.00},{"s":"Chi","t":2008.57,"v":-0.04},{"s":"Chi","t":2008.69,"v":-0.05},{"s":"Chi","t":2008.86,"v":-0.01},{"s":"Chi","t":2009.09,"v":0.00},{"s":"Chi","t":2009.31,"v":0.03},{"s":"Chi","t":2009.56,"v":0.02},{"s":"Chi","t":2009.78,"v":0.04},{"s":"Chi","t":2010.01,"v":0.03},{"s":"Chi","t":2010.25,"v":0.06},{"s":"Chi","t":2010.36,"v":0.08},{"s":"Chi","t":2010.48,"v":0.06},{"s":"Chi","t":2010.60,"v":0.07},{"s":"Chi","t":2010.69,"v":0.07}
  ]},
  "mark": {"type": "line", "strokeWidth": 2, "clip": true},
  "encoding": {
    "x": {
      "field": "t", "type": "quantitative",
      "scale": {"domain": [1994.704, 2010.948], "nice": false, "zero": false},
      "axis": {
        "values": [1995, 2000, 2005, 2010],
        "labelExpr": "'01jan' + datum.value",
        "title": "Time",
        "grid": false,
        "domainColor": "#555555", "domainWidth": 1.5,
        "tickColor": "#555555", "tickWidth": 1.5, "tickSize": 10,
        "labelFontSize": 23, "labelColor": "#333333", "labelPadding": 10,
        "labelFont": "Liberation Sans",
        "titleFontSize": 23, "titleFontWeight": "normal", "titleColor": "#222222",
        "titlePadding": 30, "titleFont": "Liberation Sans"
      }
    },
    "y": {
      "field": "v", "type": "quantitative",
      "scale": {"domain": [-0.565, 1.069], "nice": false, "zero": false},
      "axis": {
        "values": [-0.5, 0, 0.5, 1],
        "labelExpr": "datum.value === 0.5 ? '.5' : datum.value === -0.5 ? '-.5' : format(datum.value, 'd')",
        "title": null,
        "grid": true,
        "gridColor": {"condition": {"test": "datum.value === -0.5", "value": "transparent"}, "value": "#e3e9ed"},
        "gridWidth": 1.5,
        "domainColor": "#555555", "domainWidth": 1.5,
        "tickColor": "#555555", "tickWidth": 1.5, "tickSize": 9,
        "labelAngle": -90, "labelAlign": "center", "labelBaseline": "bottom",
        "labelFontSize": 23, "labelColor": "#333333", "labelPadding": 7,
        "labelFont": "Liberation Sans"
      }
    },
    "color": {
      "field": "s", "type": "nominal",
      "scale": {
        "domain": ["Can", "Ger", "Jap", "Bra", "Rus", "Ind", "Chi"],
        "range": ["#1f4e79", "#e8951f", "#e8173a", "#a8194f", "#111111", "#e84a97", "#7e1f86"]
      },
      "legend": {
        "orient": "none", "legendX": 271, "legendY": 517,
        "direction": "horizontal", "columns": 2, "title": null,
        "fillColor": "white", "strokeColor": "#555555", "padding": 13,
        "symbolType": "stroke", "symbolSize": 9604, "symbolStrokeWidth": 2,
        "clipHeight": 23,
        "labelFontSize": 23, "labelColor": "#222222", "labelFont": "Liberation Sans",
        "labelOffset": 15, "columnPadding": 40, "rowPadding": 12.5
      }
    },
    "strokeDash": {
      "field": "s", "type": "nominal",
      "scale": {
        "domain": ["Can", "Ger", "Jap", "Bra", "Rus", "Ind", "Chi"],
        "range": [[11, 5], [1, 0], [26, 7], [6, 4], [30, 5, 6, 5, 6, 5], [18, 5, 2, 5, 2, 5, 2, 5], [27, 7, 2, 5, 2, 7]]
      }
    }
  }
}
